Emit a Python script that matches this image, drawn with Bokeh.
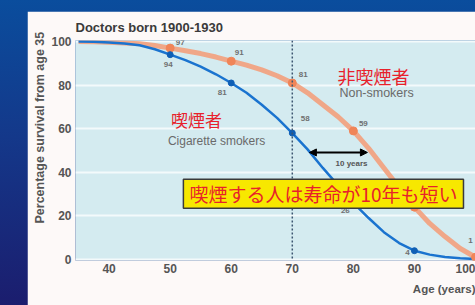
from bokeh.plotting import figure
from bokeh.models import (Label, Span, Arrow, NormalHead, FixedTicker, Spacer, Title,
                          GlobalInlineStyleSheet)
from bokeh.layouts import column, row
from bokeh.embed import file_html
from bokeh.resources import INLINE

# ---- data ----
ages = [35, 37.5, 40, 42.5, 45, 47.5, 50, 52.5, 55, 57.5, 60, 62.5, 65, 67.5,
        70, 72.5, 75, 77.5, 80, 82.5, 85, 87.5, 90, 92.5, 95, 97.5, 100]
smokers = [100, 99.9, 99.6, 99.1, 98.3, 96.5, 94, 91.5, 88.5, 85, 81, 76.5, 71, 65,
           58, 50.5, 42, 34, 26, 19, 12.5, 7.5, 4, 2.2, 1.1, 0.5, 0.2]
non_smokers = [100, 99.9, 99.7, 99.4, 99, 98.2, 97, 95.8, 94.5, 92.9, 91, 89.2, 87, 84.3,
               81, 76.5, 71, 65.5, 59, 51, 42, 33, 24, 16.5, 10.5, 5, 1]

decades = [50, 60, 70, 80, 90, 100]
smokers_decade = [94, 81, 58, 26, 4]
non_smokers_decade = [97, 91, 81, 59, 24, 1]
smokers_labels = ["94", "81", "58", "26", "4"]
non_smokers_labels = ["97", "91", "81", "59", "24", "1"]

x_ticks = [40, 50, 60, 70, 80, 90, 100]
y_ticks = [0, 20, 40, 60, 80, 100]

title_text = "Doctors born 1900-1930"
y_title = "Percentage survival from age 35"
x_title = "Age (years)"

JP = "Noto Sans CJK JP"
SANS = "Liberation Sans"
RED = "#e8212b"

p = figure(width=448, height=294, x_range=(34.5, 100.0), y_range=(-0.5, 100.5),
           output_backend="svg", toolbar_location=None,
           min_border_left=48, min_border_right=0, min_border_top=29, min_border_bottom=45)
p.border_fill_color = "#fdf9f8"
p.background_fill_color = "#d4ebf0"
p.outline_line_color = None

p.title.text = title_text
p.title.align = "left"
p.title.offset = 0
p.title.text_font = SANS
p.title.text_font_size = "13px"
p.title.text_font_style = "bold"
p.title.text_color = "#3a3a3a"
p.title.standoff = 11

p.xaxis.ticker = FixedTicker(ticks=x_ticks)
p.yaxis.ticker = FixedTicker(ticks=y_ticks)
for ax in (p.xaxis, p.yaxis):
    ax.axis_line_color = None
    ax.major_tick_line_color = None
    ax.minor_tick_line_color = None
    ax.major_tick_out = 0
    ax.major_tick_in = 0
    ax.minor_tick_out = 0
    ax.major_label_text_font = SANS
    ax.major_label_text_font_size = "12px"
    ax.major_label_text_font_style = "bold"
    ax.major_label_text_color = "#555555"
p.xaxis.major_label_standoff = 3
p.yaxis.major_label_standoff = 4
p.xgrid.grid_line_color = None
p.ygrid.grid_line_color = "#f3fafb"
p.ygrid.grid_line_width = 2

p.add_layout(Title(text=y_title, align="left", offset=37, standoff=3,
                   text_font=SANS, text_font_size="12.5px", text_font_style="bold",
                   text_color="#555555"), "left")
p.add_layout(Title(text=x_title, align="right", standoff=10,
                   text_font=SANS, text_font_size="11.5px", text_font_style="bold",
                   text_color="#555555"), "below")

# vertical dashed marker at 70
p.add_layout(Span(location=70, dimension="height", line_color="#3d5670",
                  line_dash="2 2", line_width=1.5))

# curves
p.line(ages, non_smokers, line_color="#f3a07c", line_width=5, line_alpha=0.9)
p.line(ages, smokers, line_color="#1a73cf", line_width=2.5)
p.scatter(decades, non_smokers_decade, size=8, color="#f08558")
p.scatter(decades[:5], smokers_decade, size=6, color="#0f5fb5")

# value labels (offsets in screen px: dx right, dy down)
ns_off = [(10, -6), (8, -9), (11, -8), (10, -7), (10, -8), (-5, -17)]
sm_off = [(-2, 10), (-9, 10), (13, -15), (-8, 8), (-7, 2)]
for xv, yv, t, (dx, dy) in zip(decades, non_smokers_decade, non_smokers_labels, ns_off):
    p.add_layout(Label(x=xv, y=yv, text=t, x_offset=dx, y_offset=-dy,
                       text_align="center", text_baseline="middle",
                       text_font=SANS, text_font_size="8px", text_font_style="bold",
                       text_color="#707070"))
for xv, yv, t, (dx, dy) in zip(decades, smokers_decade, smokers_labels, sm_off):
    p.add_layout(Label(x=xv, y=yv, text=t, x_offset=dx, y_offset=-dy,
                       text_align="center", text_baseline="middle",
                       text_font=SANS, text_font_size="8px", text_font_style="bold",
                       text_color="#707070"))

# 10 years arrow
p.add_layout(Arrow(x_start=72.8, y_start=49.1, x_end=82.3, y_end=49.1,
                   line_color="black", line_width=2,
                   start=NormalHead(size=7, fill_color="black", line_color="black"),
                   end=NormalHead(size=7, fill_color="black", line_color="black")))
p.add_layout(Label(x=79.7, y=44.1, text="10 years", text_align="center",
                   text_baseline="middle", text_font=SANS, text_font_size="8px",
                   text_font_style="bold", text_color="#555555"))

# series names
p.add_layout(Label(x=83.3, y=84.3, text="非喫煙者", text_align="center",
                   text_baseline="middle", text_font=JP, text_font_size="18px",
                   text_color=RED))
p.add_layout(Label(x=83.8, y=76.2, text="Non-smokers", text_align="center",
                   text_baseline="middle", text_font=SANS, text_font_size="12.5px",
                   text_color="#6a6a6a"))
p.add_layout(Label(x=54.3, y=64.3, text="喫煙者", text_align="center",
                   text_baseline="middle", text_font=JP, text_font_size="17px",
                   text_color=RED))
p.add_layout(Label(x=57.6, y=54.2, text="Cigarette smokers", text_align="center",
                   text_baseline="middle", text_font=SANS, text_font_size="12px",
                   text_color="#6a6a6a"))

# yellow callout
p.add_layout(Label(x=75.1, y=30.1, text="喫煙する人は寿命が10年も短い",
                   text_align="center", text_baseline="middle",
                   text_font=JP, text_font_size="19px", text_color=RED,
                   background_fill_color="#f7e800", border_line_color="#3a3a3a",
                   border_line_width=1.5, padding=(6, 1)))

p.stylesheets = [GlobalInlineStyleSheet(css=(
    "html{height:100%;overflow:hidden;"
    "background:linear-gradient(180deg,#0a4d9d 0%,#14388a 45%,#1b1d6e 100%);}"
    "body{background:transparent;}"))]

layout = column(Spacer(width=475, height=11),
                row(Spacer(width=27, height=294), p))

open("out.html", "w").write(file_html(layout, INLINE))
